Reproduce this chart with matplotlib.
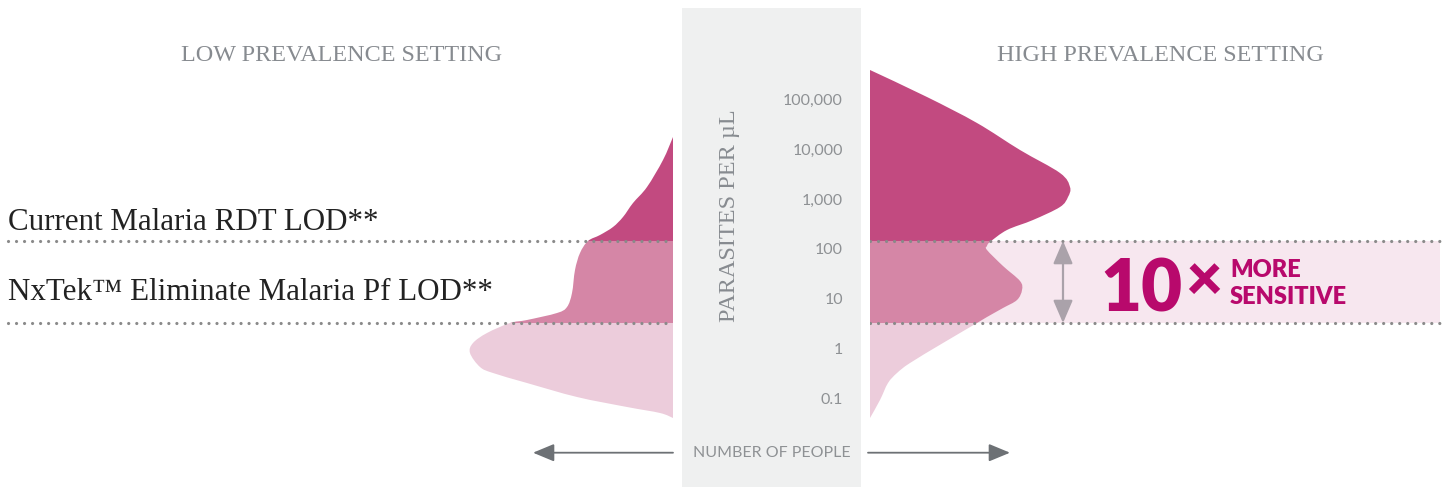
import numpy as np
import matplotlib
matplotlib.use("Agg")
import matplotlib.pyplot as plt
from matplotlib.patches import Rectangle, PathPatch
from matplotlib.path import Path

# ---------------- data ----------------
# log10(parasites per uL) sampled along each distribution outline
low_log = [4.24, 3.78, 3.24, 2.92, 2.64, 2.44, 2.28, 2.16, 1.92, 1.58, 1.12, 0.84,
           0.72, 0.58, 0.52, 0.32, 0.12, -0.08, -0.36, -0.48, -0.68, -0.96, -1.16,
           -1.28, -1.38]
# relative number of people (low prevalence setting)
low_people = [0, 5, 13, 20, 25, 30, 36.5, 42.5, 46.5, 49, 50.5, 53,
              58, 73, 81.5, 93, 100, 101.5, 96.5, 90, 73, 48, 23,
              6.5, 0]

high_log = [5.58, 5.04, 4.52, 3.98, 3.52, 3.24, 3.04, 2.84, 2.58, 2.38, 2.14,
            2.06, 1.98, 1.66, 1.36, 1.18, 0.98, 0.82, 0.64, 0.52, 0.12, -0.28,
            -0.48, -0.68, -1.02, -1.38]
high_people = [0, 28.5, 53.5, 75, 95, 100, 99, 95, 81.5, 68.5, 60,
               58.5, 58.5, 66.5, 75, 76, 73.5, 66.5, 58.5, 53.5, 36.5, 20,
               13.5, 9, 5, 0]

lod_rdt = 145       # parasites / uL
lod_nxtek = 3.3     # parasites / uL

tick_values = [100000, 10000, 1000, 100, 10, 1, 0.1]
tick_labels = ["100,000", "10,000", "1,000", "100", "10", "1", "0.1"]

# ---------------- styling ----------------
DARK = "#c24a80"
MID = "#d586a6"
LIGHT = "#ecccdb"
BAND = "#f7e7ef"
GREY_TXT = "#878b90"
DOT = "#8a8a8a"
ACCENT = "#b8096c"

W, H = 1445, 487
fig = plt.figure(figsize=(W / 100, H / 100), dpi=100)
fig.patch.set_facecolor("white")

Y_LO, Y_HI = -2.76, 6.98  # log10 span of the full figure height
L_rdt, L_nx = np.log10(lod_rdt), np.log10(lod_nxtek)

ax_l = fig.add_axes([0, 0, 673 / W, 1])
ax_l.set_xlim(673 / 2, 0)
ax_r = fig.add_axes([870 / W, 0, (W - 870) / W, 1])
ax_r.set_xlim(0, (W - 870) / 2)
for a in (ax_l, ax_r):
    a.set_ylim(Y_LO, Y_HI)
    a.axis("off")

ax_c = fig.add_axes([682 / W, 0, 179 / W, 479 / H])
ax_c.set_ylim(Y_LO, 6.82)
ax_c.set_xlim(0, 1)
ax_c.set_facecolor("#eff0f0")
for s in ax_c.spines.values():
    s.set_visible(False)
ax_c.set_xticks([])
ax_c.yaxis.tick_right()
ax_c.set_yticks(np.log10(tick_values), tick_labels)
ax_c.tick_params(axis="y", length=0, pad=-13, labelcolor="#8e9194", labelsize=11.5)
for t in ax_c.get_yticklabels():
    t.set_horizontalalignment("right")
    t.set_fontfamily("Lato")

# highlight band on right
ax_r.axhspan(L_nx, L_rdt, xmin=0, xmax=570 / 575, color=BAND, zorder=0, lw=0)


def smooth_outline(people, logs):
    """Closed path: smooth (Catmull-Rom style Bezier) outline + baseline."""
    P = np.column_stack([people, logs]).astype(float)
    n = len(P)
    verts = [P[0]]
    codes = [Path.MOVETO]
    for i in range(n - 1):
        p0 = P[max(i - 1, 0)]
        p1 = P[i]
        p2 = P[i + 1]
        p3 = P[min(i + 2, n - 1)]
        c1 = p1 + (p2 - p0) / 6.0
        c2 = p2 - (p3 - p1) / 6.0
        verts += [c1, c2, p2]
        codes += [Path.CURVE4] * 3
    verts.append(P[0])
    codes.append(Path.LINETO)
    verts.append(P[0])
    codes.append(Path.CLOSEPOLY)
    return Path(np.array(verts), codes)


def draw_shape(ax, logs, people):
    path = smooth_outline(people, logs)
    bands = [(Y_LO, L_nx, LIGHT), (L_nx, L_rdt, MID), (L_rdt, Y_HI, DARK)]
    for lo, hi, col in bands:
        patch = PathPatch(path, facecolor=col, edgecolor="none", lw=0, zorder=2)
        ax.add_patch(patch)
        clip = Rectangle((-1000, lo), 3000, hi - lo, transform=ax.transData)
        patch.set_clip_path(clip)


draw_shape(ax_l, low_log, low_people)
draw_shape(ax_r, high_log, high_people)

# dotted LOD lines
for L in (L_rdt, L_nx):
    for ax, x0, x1 in ((ax_l, 8 / 673, 1), (ax_r, 0, 570 / 575)):
        ax.axhline(L, xmin=x0, xmax=x1, color=DOT, lw=2.3,
                   linestyle=(0, (0.01, 2.5)), dash_capstyle="round", zorder=4)

# double-headed arrow
ax_r.annotate("", xy=(96.5, L_rdt), xytext=(96.5, L_nx),
              arrowprops=dict(arrowstyle="<|-|>,head_length=0.7,head_width=0.3",
                              color="#aaa2aa", lw=1.6, shrinkA=0, shrinkB=0,
                              mutation_scale=20), zorder=5)

# number-of-people arrows
y_arrow = 5 - (452.7 - 99) / 50
ax_l.annotate("", xy=(70, y_arrow), xytext=(0, y_arrow),
              arrowprops=dict(arrowstyle="-|>,head_length=0.65,head_width=0.27",
                              color="#6d7175", lw=1.3, shrinkA=0, shrinkB=0,
                              mutation_scale=20))
ax_r.annotate("", xy=(70, y_arrow), xytext=(-1, y_arrow),
              arrowprops=dict(arrowstyle="-|>,head_length=0.65,head_width=0.27",
                              color="#6d7175", lw=1.3, shrinkA=0, shrinkB=0,
                              mutation_scale=20), annotation_clip=False)

# ---------------- text ----------------
def fx(px):
    return px / W


def fy(px):
    return 1 - px / H


SERIF = "Liberation Serif"
fig.text(fx(341.5), fy(61), "LOW PREVALENCE SETTING", ha="center", va="baseline",
         family=SERIF, fontsize=17.4, color=GREY_TXT)
fig.text(fx(1160), fy(61), "HIGH PREVALENCE SETTING", ha="center", va="baseline",
         family=SERIF, fontsize=17.4, color=GREY_TXT)
fig.text(fx(8), fy(230), "Current Malaria RDT LOD**", ha="left", va="baseline",
         family=SERIF, fontsize=22.3, color="#222222")
fig.text(fx(8), fy(300), "NxTek\u2122 Eliminate Malaria Pf LOD**", ha="left",
         va="baseline", family=SERIF, fontsize=22.3, color="#222222")
fig.text(fx(730), fy(216), "PARASITES PER \u00b5L", ha="center", va="center",
         rotation=90, family=SERIF, fontsize=17.5, color=GREY_TXT)
fig.text(fx(772), fy(453), "NUMBER OF PEOPLE", ha="center", va="center",
         family="Lato", fontsize=11.5, color="#8e9194")

fig.text(fx(1100), fy(311), "10", ha="left", va="baseline", family="Lato",
         fontweight="heavy", fontsize=51, color=ACCENT)
fig.text(fx(1204), fy(281), "\u00d7", ha="center", va="center", family="Lato",
         fontweight="heavy", fontsize=46, color=ACCENT)
fig.text(fx(1230), fy(277), "MORE", ha="left", va="baseline", family="Lato",
         fontweight="heavy", fontsize=17, color=ACCENT)
fig.text(fx(1230), fy(304), "SENSITIVE", ha="left", va="baseline", family="Lato",
         fontweight="heavy", fontsize=17, color=ACCENT)

fig.savefig("out.png", dpi=100, facecolor="white")
